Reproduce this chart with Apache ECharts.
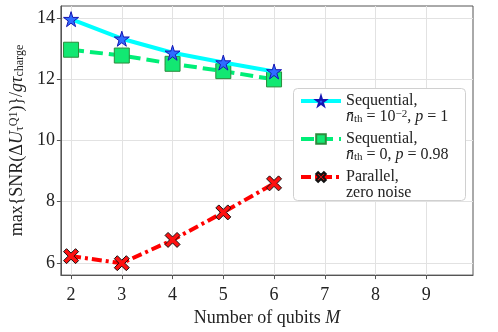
<!DOCTYPE html>
<html>
<head>
<meta charset="utf-8">
<script src="https://cdn.jsdelivr.net/npm/echarts@6/dist/echarts.min.js"></script>
<style>
  html, body { margin: 0; padding: 0; background: #fff; }
  #chart { width: 498px; height: 332px; }
</style>
</head>
<body>
<div id="chart"></div>
<script>
// values
const qubits = [2, 3, 4, 5, 6];
const sequentialNoisy = [13.97, 13.33, 12.87, 12.55, 12.26];
const sequentialLossy = [12.97, 12.78, 12.51, 12.27, 12.0];
const parallelIdeal = [6.22, 5.99, 6.75, 7.65, 8.6];
const xTicks = [2, 3, 4, 5, 6, 7, 8, 9];
const yTicks = [6, 8, 10, 12, 14];

const font = "'Liberation Serif', 'DejaVu Serif', serif";
const starPath = "path://M50,0 L61,35 L98,35 L68,57 L79,91 L50,70 L21,91 L32,57 L2,35 L39,35 Z";
const crossPath = "path://M20,0 L50,30 L80,0 L100,20 L70,50 L100,80 L80,100 L50,70 L20,100 L0,80 L30,50 L0,20 Z";

const names = ["seqA", "seqB", "par"];
const legendText = {
  seqA: "{t|Sequential,}\n{i|n\u0304}{s|th}{t| = 10}{p|\u22122}{t|, }{i|p}{t| = 1}",
  seqB: "{t|Sequential,}\n{i|n\u0304}{s|th}{t| = 0, }{i|p}{t| = 0.98}",
  par: "{t|Parallel,}\n{t|zero noise}",
};

const chart = echarts.init(document.getElementById("chart"));

function pairs(ys) {
  return qubits.map((x, i) => [x, ys[i]]);
}

chart.setOption({
  animation: false,
  grid: { left: 60, right: 25, top: 6, bottom: 50, show: true, borderColor: "#555", borderWidth: 1 },
  graphic: [
    {
      type: "rect",
      left: 293,
      top: 88,
      z: 3,
      shape: { width: 172, height: 112, r: 4 },
      style: { fill: "#fff", stroke: "#d0d0d0", lineWidth: 1 },
    },
  ],
  xAxis: {
    type: "value",
    min: 1.8,
    max: 9.92,
    name: "Number of qubits {i|M}",
    nameLocation: "middle",
    nameGap: 25,
    nameTextStyle: {
      fontFamily: font, fontSize: 18, color: "#222",
      rich: { i: { fontFamily: font, fontStyle: "italic", fontSize: 18, color: "#222" } },
    },
    axisLine: { show: true, onZero: false, lineStyle: { color: "#555", width: 1 } },
    axisTick: { show: true, length: 4, customValues: xTicks, lineStyle: { color: "#555" } },
    axisLabel: { customValues: xTicks, fontFamily: font, fontSize: 18, color: "#222", margin: 11 },
    splitLine: { show: true, lineStyle: { color: "#e2e2e2", width: 1 } },
  },
  yAxis: {
    type: "value",
    min: 5.6,
    max: 14.4,
    name: "max{SNR(\u0394{i|U}{sub|\u03c4}{sup|Q1})}/{i|g\u03c4}{sub|charge}",
    nameLocation: "middle",
    nameRotate: 90,
    nameGap: 32,
    nameTextStyle: {
      fontFamily: font, fontSize: 18, color: "#222",
      rich: {
        i: { fontFamily: font, fontStyle: "italic", fontSize: 18, color: "#222" },
        sub: { fontFamily: font, fontSize: 12, color: "#222", verticalAlign: "bottom", padding: [6, 0, 0, 0] },
        sup: { fontFamily: font, fontSize: 12, color: "#222", verticalAlign: "top", padding: [0, 0, 6, 0] },
      },
    },
    axisLine: { show: true, lineStyle: { color: "#555", width: 1 } },
    axisTick: { show: true, length: 4, customValues: yTicks, lineStyle: { color: "#555" } },
    axisLabel: { customValues: yTicks, fontFamily: font, fontSize: 18, color: "#222", margin: 6 },
    splitLine: { show: true, lineStyle: { color: "#e2e2e2", width: 1 } },
  },
  legend: {
    orient: "vertical",
    left: 293,
    top: 77,
    data: names,
    itemWidth: 40,
    itemHeight: 12,
    itemGap: -10,
    padding: [0, 10, 0, 6],
    lineStyle: { width: 4 },
    formatter: (n) => legendText[n],
    textStyle: {
      fontFamily: font,
      fontSize: 16,
      color: "#222",
      lineHeight: 16,
      padding: [16, 0, 0, 0],
      rich: {
        t: { fontFamily: font, fontSize: 16, color: "#222", lineHeight: 16 },
        i: { fontFamily: font, fontSize: 16, fontStyle: "italic", color: "#222", lineHeight: 16 },
        s: { fontFamily: font, fontSize: 11, color: "#222", verticalAlign: "bottom", lineHeight: 16 },
        p: { fontFamily: font, fontSize: 11, color: "#222", verticalAlign: "top", lineHeight: 16 },
      },
    },
  },
  series: [
    {
      name: "seqA",
      type: "line",
      data: pairs(sequentialNoisy),
      symbol: starPath,
      symbolSize: 15,
      lineStyle: { color: "#00ffff", width: 4 },
      itemStyle: { color: "#2f6cff", borderColor: "#1414b4", borderWidth: 1 },
      z: 4,
    },
    {
      name: "seqB",
      type: "line",
      data: pairs(sequentialLossy),
      symbol: "rect",
      symbolSize: 15,
      lineStyle: { color: "#00ee77", width: 4, type: [13, 6] },
      itemStyle: { color: "#12e872", borderColor: "#2b8c3c", borderWidth: 1 },
      z: 3,
    },
    {
      name: "par",
      type: "line",
      data: pairs(parallelIdeal),
      symbol: crossPath,
      symbolSize: 15,
      lineStyle: { color: "#ff0000", width: 4, type: [10, 4, 3, 4] },
      itemStyle: { color: "#ff1111", borderColor: "#111", borderWidth: 1 },
      z: 2,
    },
  ],
});
</script>
</body>
</html>
